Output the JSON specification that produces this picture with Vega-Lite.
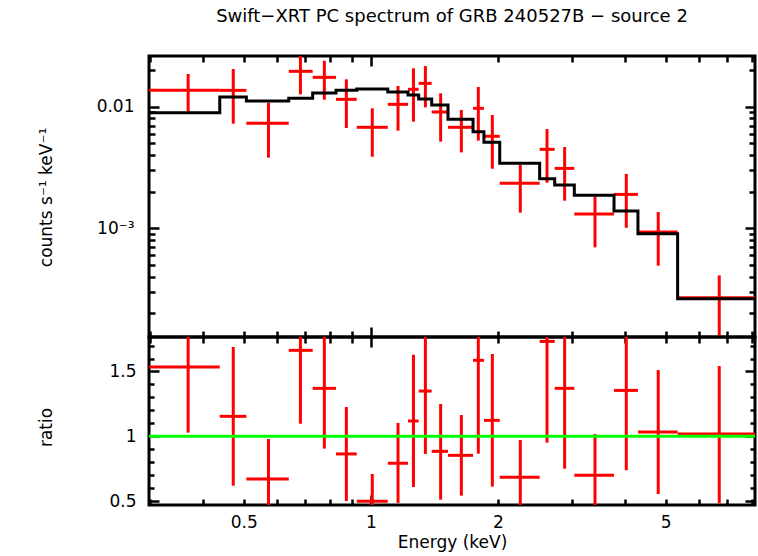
{
  "$schema": "https://vega.github.io/schema/vega-lite/v6.json",
  "background": "white",
  "padding": {"left": 35, "top": 8, "right": 2, "bottom": 2},
  "title": {"text": "Swift−XRT PC spectrum of GRB 240527B − source 2", "font": "DejaVu Sans", "fontSize": 18, "fontWeight": "normal", "color": "black", "anchor": "middle", "frame": "group", "offset": 27},
  "spacing": 0,
  "bounds": "flush",
  "config": {
    "view": {"stroke": "black", "strokeWidth": 3},
    "axis": {"domain": false, "grid": false, "tickColor": "black", "tickWidth": 2.5, "labelFont": "DejaVu Sans", "labelFontSize": 17, "labelColor": "black", "titleFont": "DejaVu Sans", "titleFontSize": 17, "titleFontWeight": "normal", "titleColor": "black"}
  },
  "datasets": {
    "bins": [
      {"elo": 0.298, "ehi": 0.4385, "e": 0.369, "y": 0.01363, "ylo": 0.00905, "yhi": 0.01857, "r": 1.534, "rlo": 1.028, "rhi": 2.04},
      {"elo": 0.4385, "ehi": 0.507, "e": 0.472, "y": 0.01363, "ylo": 0.00725, "yhi": 0.0204, "r": 1.154, "rlo": 0.619, "rhi": 1.689},
      {"elo": 0.507, "ehi": 0.639, "e": 0.572, "y": 0.0073, "ylo": 0.00381, "yhi": 0.01079, "r": 0.671, "rlo": 0.363, "rhi": 0.979},
      {"elo": 0.639, "ehi": 0.728, "e": 0.681, "y": 0.01954, "ylo": 0.01264, "yhi": 0.0264, "r": 1.663, "rlo": 1.097, "rhi": 2.229},
      {"elo": 0.728, "ehi": 0.827, "e": 0.776, "y": 0.01744, "ylo": 0.01142, "yhi": 0.0239, "r": 1.37, "rlo": 0.905, "rhi": 1.835},
      {"elo": 0.827, "ehi": 0.926, "e": 0.875, "y": 0.0115, "ylo": 0.00668, "yhi": 0.0168, "r": 0.864, "rlo": 0.501, "rhi": 1.226},
      {"elo": 0.926, "ehi": 1.097, "e": 1.008, "y": 0.00677, "ylo": 0.00388, "yhi": 0.0097, "r": 0.499, "rlo": 0.29, "rhi": 0.709},
      {"elo": 1.097, "ehi": 1.225, "e": 1.16, "y": 0.01046, "ylo": 0.00635, "yhi": 0.0148, "r": 0.792, "rlo": 0.486, "rhi": 1.103},
      {"elo": 1.225, "ehi": 1.2985, "e": 1.262, "y": 0.0139, "ylo": 0.00753, "yhi": 0.0207, "r": 1.118, "rlo": 0.609, "rhi": 1.629},
      {"elo": 1.2985, "ehi": 1.394, "e": 1.347, "y": 0.01556, "ylo": 0.00988, "yhi": 0.0216, "r": 1.349, "rlo": 0.864, "rhi": 1.834},
      {"elo": 1.394, "ehi": 1.524, "e": 1.464, "y": 0.00905, "ylo": 0.00516, "yhi": 0.01288, "r": 0.884, "rlo": 0.511, "rhi": 1.249},
      {"elo": 1.524, "ehi": 1.747, "e": 1.639, "y": 0.00677, "ylo": 0.00421, "yhi": 0.0094, "r": 0.853, "rlo": 0.542, "rhi": 1.164},
      {"elo": 1.747, "ehi": 1.854, "e": 1.798, "y": 0.0097, "ylo": 0.00526, "yhi": 0.01452, "r": 1.586, "rlo": 0.866, "rhi": 2.306},
      {"elo": 1.854, "ehi": 2.021, "e": 1.941, "y": 0.00571, "ylo": 0.00309, "yhi": 0.00855, "r": 1.123, "rlo": 0.612, "rhi": 1.635},
      {"elo": 2.021, "ehi": 2.513, "e": 2.261, "y": 0.002344, "ylo": 0.001345, "yhi": 0.003316, "r": 0.684, "rlo": 0.397, "rhi": 0.971},
      {"elo": 2.513, "ehi": 2.728, "e": 2.616, "y": 0.00446, "ylo": 0.00237, "yhi": 0.00655, "r": 1.732, "rlo": 0.951, "rhi": 2.513},
      {"elo": 2.728, "ehi": 3.036, "e": 2.88, "y": 0.00311, "ylo": 0.001687, "yhi": 0.00466, "r": 1.37, "rlo": 0.75, "rhi": 1.99},
      {"elo": 3.036, "ehi": 3.771, "e": 3.399, "y": 0.001311, "ylo": 0.000698, "yhi": 0.00182, "r": 0.699, "rlo": 0.38, "rhi": 1.018},
      {"elo": 3.771, "ehi": 4.297, "e": 4.032, "y": 0.0019, "ylo": 0.00101, "yhi": 0.0028, "r": 1.354, "rlo": 0.738, "rhi": 1.97},
      {"elo": 4.297, "ehi": 5.336, "e": 4.8, "y": 0.000932, "ylo": 0.000493, "yhi": 0.001361, "r": 1.033, "rlo": 0.555, "rhi": 1.511},
      {"elo": 5.336, "ehi": 8.14, "e": 6.697, "y": 0.000269, "ylo": 0.000127, "yhi": 0.00041, "r": 1.018, "rlo": 0.483, "rhi": 1.542}
    ],
    "model": [
      {"e": 0.298, "m": 0.00893},
      {"e": 0.4385, "m": 0.01202},
      {"e": 0.507, "m": 0.01114},
      {"e": 0.639, "m": 0.01172},
      {"e": 0.728, "m": 0.01296},
      {"e": 0.827, "m": 0.01363},
      {"e": 0.926, "m": 0.01398},
      {"e": 1.097, "m": 0.01321},
      {"e": 1.225, "m": 0.01248},
      {"e": 1.2985, "m": 0.01157},
      {"e": 1.394, "m": 0.01033},
      {"e": 1.524, "m": 0.00787},
      {"e": 1.747, "m": 0.00623},
      {"e": 1.854, "m": 0.00509},
      {"e": 2.021, "m": 0.003422},
      {"e": 2.513, "m": 0.00256},
      {"e": 2.728, "m": 0.00227},
      {"e": 3.036, "m": 0.001866},
      {"e": 3.771, "m": 0.001388},
      {"e": 4.297, "m": 0.000903},
      {"e": 5.336, "m": 0.000264},
      {"e": 8.14, "m": 0.000264}
    ],
    "unity": [{"ratio": 1}]
  },
  "vconcat": [
    {
      "width": 606,
      "height": 281,
      "resolve": {"axis": {"x": "independent", "y": "independent"}},
      "layer": [
        {
          "data": {"name": "bins"},
          "mark": {"type": "rule", "color": "#ff0000", "strokeWidth": 3, "clip": true},
          "encoding": {
            "x": {"field": "elo", "type": "quantitative", "scale": {"type": "log", "domain": [0.298, 8.14], "nice": false}, "axis": {"orient": "bottom", "values": [0.3, 0.4, 0.5, 0.6, 0.7, 0.8, 0.9, 1, 2, 3, 4, 5, 6, 7, 8], "labels": false, "title": null, "tickSize": {"condition": {"test": "datum.value == 1", "value": -10}, "value": -6}}},
            "x2": {"field": "ehi"},
            "y": {"field": "y", "type": "quantitative", "scale": {"type": "log", "domain": [0.0001277, 0.02612], "nice": false}, "axis": {"orient": "left", "values": [0.0002, 0.0003, 0.0004, 0.0005, 0.0006, 0.0007, 0.0008, 0.0009, 0.001, 0.002, 0.003, 0.004, 0.005, 0.006, 0.007, 0.008, 0.009, 0.01, 0.02], "labelExpr": "datum.value == 0.01 ? '0.01' : (datum.value == 0.001 ? '10⁻³' : '')", "tickSize": {"condition": {"test": "datum.value == 0.01 || datum.value == 0.001", "value": -10}, "value": -6}, "labelPadding": 25, "title": "counts s⁻¹ keV⁻¹", "titleX": -103, "titleY": 141, "titleAngle": -90, "titleBaseline": "middle", "titleAlign": "center"}}
          }
        },
        {
          "data": {"name": "bins"},
          "mark": {"type": "rule", "color": "#ff0000", "strokeWidth": 3, "clip": true},
          "encoding": {
            "x": {"field": "e", "type": "quantitative", "scale": {"type": "log", "domain": [0.298, 8.14], "nice": false}, "axis": null},
            "y": {"field": "ylo", "type": "quantitative", "scale": {"type": "log", "domain": [0.0001277, 0.02612], "nice": false}, "axis": null},
            "y2": {"field": "yhi"}
          }
        },
        {
          "data": {"name": "model"},
          "mark": {"type": "line", "interpolate": "step-after", "color": "black", "strokeWidth": 3, "clip": true},
          "encoding": {
            "x": {"field": "e", "type": "quantitative", "scale": {"type": "log", "domain": [0.298, 8.14], "nice": false}, "axis": {"orient": "top", "values": [0.3, 0.4, 0.5, 0.6, 0.7, 0.8, 0.9, 1, 2, 3, 4, 5, 6, 7, 8], "labels": false, "title": null, "tickSize": {"condition": {"test": "datum.value == 1", "value": -10}, "value": -6}}},
            "y": {"field": "m", "type": "quantitative", "scale": {"type": "log", "domain": [0.0001277, 0.02612], "nice": false}, "axis": {"orient": "right", "values": [0.0002, 0.0003, 0.0004, 0.0005, 0.0006, 0.0007, 0.0008, 0.0009, 0.001, 0.002, 0.003, 0.004, 0.005, 0.006, 0.007, 0.008, 0.009, 0.01, 0.02], "labels": false, "title": null, "tickSize": {"condition": {"test": "datum.value == 0.01 || datum.value == 0.001", "value": -10}, "value": -6}}}
          }
        }
      ]
    },
    {
      "width": 606,
      "height": 168,
      "resolve": {"axis": {"x": "independent", "y": "independent"}},
      "layer": [
        {
          "data": {"name": "bins"},
          "mark": {"type": "rule", "color": "#ff0000", "strokeWidth": 3, "clip": true},
          "encoding": {
            "x": {"field": "elo", "type": "quantitative", "scale": {"type": "log", "domain": [0.298, 8.14], "nice": false}, "axis": {"orient": "bottom", "values": [0.3, 0.4, 0.5, 0.6, 0.7, 0.8, 0.9, 1, 2, 3, 4, 5, 6, 7, 8], "labelExpr": "datum.value == 0.5 ? '0.5' : (datum.value == 1 ? '1' : (datum.value == 2 ? '2' : (datum.value == 5 ? '5' : '')))", "labelPadding": {"condition": {"test": "datum.value == 1", "value": 19}, "value": 15}, "title": "Energy (keV)", "titlePadding": 4, "tickSize": {"condition": {"test": "datum.value == 1", "value": -10}, "value": -6}}},
            "x2": {"field": "ehi"},
            "y": {"field": "r", "type": "quantitative", "scale": {"domain": [0.47, 1.766], "nice": false, "zero": false}, "axis": {"orient": "left", "values": [0.5, 0.6, 0.7, 0.8, 0.9, 1, 1.1, 1.2, 1.3, 1.4, 1.5, 1.6, 1.7], "labelExpr": "datum.value == 0.5 ? '0.5' : (datum.value == 1 ? '1' : (datum.value == 1.5 ? '1.5' : ''))", "tickSize": {"condition": {"test": "datum.value == 0.5 || datum.value == 1 || datum.value == 1.5", "value": -10}, "value": -5}, "labelPadding": 23, "title": "ratio", "titleX": -103, "titleY": 90, "titleAngle": -90, "titleBaseline": "middle", "titleAlign": "center"}}
          }
        },
        {
          "data": {"name": "bins"},
          "mark": {"type": "rule", "color": "#ff0000", "strokeWidth": 3, "clip": true},
          "encoding": {
            "x": {"field": "e", "type": "quantitative", "scale": {"type": "log", "domain": [0.298, 8.14], "nice": false}, "axis": {"orient": "top", "values": [0.3, 0.4, 0.5, 0.6, 0.7, 0.8, 0.9, 1, 2, 3, 4, 5, 6, 7, 8], "labels": false, "title": null, "tickSize": {"condition": {"test": "datum.value == 1", "value": -10}, "value": -6}}},
            "y": {"field": "rlo", "type": "quantitative", "scale": {"domain": [0.47, 1.766], "nice": false, "zero": false}, "axis": {"orient": "right", "values": [0.5, 0.6, 0.7, 0.8, 0.9, 1, 1.1, 1.2, 1.3, 1.4, 1.5, 1.6, 1.7], "labels": false, "title": null, "tickSize": {"condition": {"test": "datum.value == 0.5 || datum.value == 1 || datum.value == 1.5", "value": -10}, "value": -5}}},
            "y2": {"field": "rhi"}
          }
        },
        {
          "data": {"name": "unity"},
          "mark": {"type": "rule", "color": "#00ff00", "strokeWidth": 3, "clip": true},
          "encoding": {
            "y": {"field": "ratio", "type": "quantitative", "scale": {"domain": [0.47, 1.766], "nice": false, "zero": false}, "axis": null}
          }
        }
      ]
    }
  ]
}
